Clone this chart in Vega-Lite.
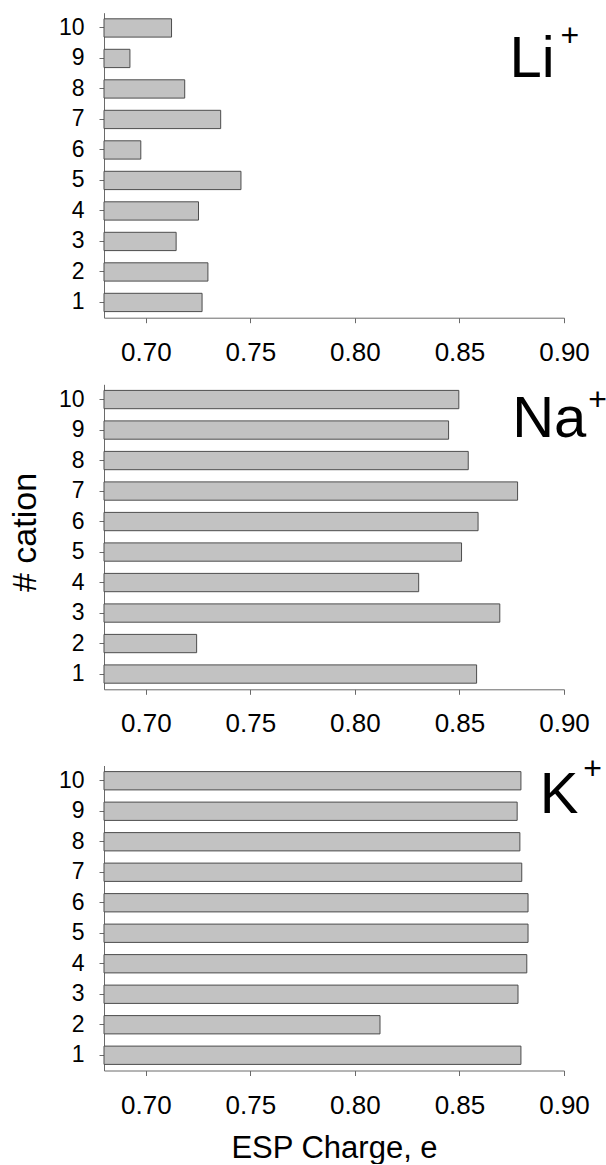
{
  "$schema": "https://vega.github.io/schema/vega-lite/v6.json",
  "background": "white",
  "padding": {"left": 7, "top": 0, "right": 0, "bottom": 0},
  "bounds": "flush",
  "spacing": 66,
  "datasets": {
    "bars": [
      {"ion": "Li", "cation": 1, "charge": 0.7269},
      {"ion": "Li", "cation": 2, "charge": 0.7297},
      {"ion": "Li", "cation": 3, "charge": 0.7145},
      {"ion": "Li", "cation": 4, "charge": 0.7252},
      {"ion": "Li", "cation": 5, "charge": 0.7455},
      {"ion": "Li", "cation": 6, "charge": 0.6976},
      {"ion": "Li", "cation": 7, "charge": 0.7358},
      {"ion": "Li", "cation": 8, "charge": 0.7186},
      {"ion": "Li", "cation": 9, "charge": 0.6924},
      {"ion": "Li", "cation": 10, "charge": 0.7123},
      {"ion": "Na", "cation": 1, "charge": 0.8582},
      {"ion": "Na", "cation": 2, "charge": 0.7243},
      {"ion": "Na", "cation": 3, "charge": 0.8693},
      {"ion": "Na", "cation": 4, "charge": 0.8305},
      {"ion": "Na", "cation": 5, "charge": 0.851},
      {"ion": "Na", "cation": 6, "charge": 0.8589},
      {"ion": "Na", "cation": 7, "charge": 0.8778},
      {"ion": "Na", "cation": 8, "charge": 0.8542},
      {"ion": "Na", "cation": 9, "charge": 0.8448},
      {"ion": "Na", "cation": 10, "charge": 0.8497},
      {"ion": "K", "cation": 1, "charge": 0.8794},
      {"ion": "K", "cation": 2, "charge": 0.812},
      {"ion": "K", "cation": 3, "charge": 0.878},
      {"ion": "K", "cation": 4, "charge": 0.8822},
      {"ion": "K", "cation": 5, "charge": 0.8828},
      {"ion": "K", "cation": 6, "charge": 0.8828},
      {"ion": "K", "cation": 7, "charge": 0.8798},
      {"ion": "K", "cation": 8, "charge": 0.8789},
      {"ion": "K", "cation": 9, "charge": 0.8776},
      {"ion": "K", "cation": 10, "charge": 0.8794}
    ],
    "labels": [
      {"ion": "Li", "part": "main", "text": "Li", "charge": 0.8739, "cation": 9},
      {"ion": "Li", "part": "plus", "text": "+", "charge": 0.9028, "cation": 10},
      {"ion": "Na", "part": "main", "text": "Na", "charge": 0.8752, "cation": 9},
      {"ion": "Na", "part": "plus", "text": "+", "charge": 0.9161, "cation": 10},
      {"ion": "K", "part": "main", "text": "K", "charge": 0.8884, "cation": 9},
      {"ion": "K", "part": "plus", "text": "+", "charge": 0.9137, "cation": 10}
    ]
  },
  "vconcat": [
    {
      "width": 460,
      "height": 317.7,
      "encoding": {
        "y": {"field": "cation", "type": "ordinal", "scale": {"domain": [10, 9, 8, 7, 6, 5, 4, 3, 2, 1], "range": [12.7, 317.7], "paddingInner": 0.4, "paddingOuter": 0.2}, "axis": {"title": null, "labelFontSize": 23, "labelPadding": 15}},
        "x": {"field": "charge", "type": "quantitative", "scale": {"domain": [0.68, 0.9], "nice": false, "zero": false}, "axis": {"title": null, "values": [0.7, 0.75, 0.8, 0.85, 0.9], "format": ".2f", "labelFontSize": 26, "labelPadding": 16.5}}
      },
      "layer": [
        {
          "data": {"name": "bars"},
          "transform": [{"filter": "datum.ion === 'Li'"}],
          "mark": {"type": "bar", "fill": "#c2c2c2", "stroke": "#4d4d4d", "strokeWidth": 1},
          "encoding": {"x2": {"datum": 0.68}}
        },
        {
          "data": {"name": "labels"},
          "transform": [{"filter": "datum.ion === 'Li' && datum.part === 'main'"}],
          "mark": {"type": "text", "align": "left", "baseline": "alphabetic", "fontSize": 58, "font": "Liberation Sans", "color": "#000", "dy": 18.9},
          "encoding": {"text": {"field": "text"}}
        },
        {
          "data": {"name": "labels"},
          "transform": [{"filter": "datum.ion === 'Li' && datum.part === 'plus'"}],
          "mark": {"type": "text", "align": "center", "baseline": "middle", "fontSize": 32, "font": "Liberation Sans", "color": "#000", "dy": 7.6},
          "encoding": {"text": {"field": "text"}}
        }
      ]
    },
    {
      "width": 460,
      "height": 305.3,
      "encoding": {
        "y": {"field": "cation", "type": "ordinal", "scale": {"domain": [10, 9, 8, 7, 6, 5, 4, 3, 2, 1], "range": [0.3, 305.3], "paddingInner": 0.4, "paddingOuter": 0.2}, "axis": {"title": "# cation", "titleFontSize": 34, "titleX": -69, "titleY": 148, "titleAlign": "center", "titleBaseline": "alphabetic", "labelFontSize": 23, "labelPadding": 15}},
        "x": {"field": "charge", "type": "quantitative", "scale": {"domain": [0.68, 0.9], "nice": false, "zero": false}, "axis": {"title": null, "values": [0.7, 0.75, 0.8, 0.85, 0.9], "format": ".2f", "labelFontSize": 26, "labelPadding": 16.5}}
      },
      "layer": [
        {
          "data": {"name": "bars"},
          "transform": [{"filter": "datum.ion === 'Na'"}],
          "mark": {"type": "bar", "fill": "#c2c2c2", "stroke": "#4d4d4d", "strokeWidth": 1},
          "encoding": {"x2": {"datum": 0.68}}
        },
        {
          "data": {"name": "labels"},
          "transform": [{"filter": "datum.ion === 'Na' && datum.part === 'main'"}],
          "mark": {"type": "text", "align": "left", "baseline": "alphabetic", "fontSize": 58, "font": "Liberation Sans", "color": "#000", "dy": 7},
          "encoding": {"text": {"field": "text"}}
        },
        {
          "data": {"name": "labels"},
          "transform": [{"filter": "datum.ion === 'Na' && datum.part === 'plus'"}],
          "mark": {"type": "text", "align": "center", "baseline": "middle", "fontSize": 32, "font": "Liberation Sans", "color": "#000", "dy": 0.4},
          "encoding": {"text": {"field": "text"}}
        }
      ]
    },
    {
      "width": 460,
      "height": 314.5,
      "encoding": {
        "y": {"field": "cation", "type": "ordinal", "scale": {"domain": [10, 9, 8, 7, 6, 5, 4, 3, 2, 1], "range": [9.5, 314.5], "paddingInner": 0.4, "paddingOuter": 0.2}, "axis": {"title": null, "labelFontSize": 23, "labelPadding": 15}},
        "x": {"field": "charge", "type": "quantitative", "scale": {"domain": [0.68, 0.9], "nice": false, "zero": false}, "axis": {"title": "ESP Charge, e", "titleFontSize": 31, "titleY": 87, "titleBaseline": "alphabetic", "values": [0.7, 0.75, 0.8, 0.85, 0.9], "format": ".2f", "labelFontSize": 26, "labelPadding": 16.5}}
      },
      "layer": [
        {
          "data": {"name": "bars"},
          "transform": [{"filter": "datum.ion === 'K'"}],
          "mark": {"type": "bar", "fill": "#c2c2c2", "stroke": "#4d4d4d", "strokeWidth": 1},
          "encoding": {"x2": {"datum": 0.68}}
        },
        {
          "data": {"name": "labels"},
          "transform": [{"filter": "datum.ion === 'K' && datum.part === 'main'"}],
          "mark": {"type": "text", "align": "left", "baseline": "alphabetic", "fontSize": 58, "font": "Liberation Sans", "color": "#000", "dy": 2},
          "encoding": {"text": {"field": "text"}}
        },
        {
          "data": {"name": "labels"},
          "transform": [{"filter": "datum.ion === 'K' && datum.part === 'plus'"}],
          "mark": {"type": "text", "align": "center", "baseline": "middle", "fontSize": 32, "font": "Liberation Sans", "color": "#000", "dy": -11.6},
          "encoding": {"text": {"field": "text"}}
        }
      ]
    }
  ],
  "config": {
    "view": {"stroke": null},
    "font": "Liberation Sans",
    "axis": {
      "grid": false,
      "domainColor": "#6a6a6a",
      "domainWidth": 1,
      "tickColor": "#6a6a6a",
      "tickWidth": 1,
      "tickSize": 5,
      "labelColor": "#000",
      "labelFont": "Liberation Sans",
      "titleFont": "Liberation Sans",
      "titleColor": "#000",
      "titleFontWeight": "normal"
    },
    "axisX": {"labelFlush": false, "labelOverlap": false},
    "axisY": {"labelAngle": 0}
  }
}
